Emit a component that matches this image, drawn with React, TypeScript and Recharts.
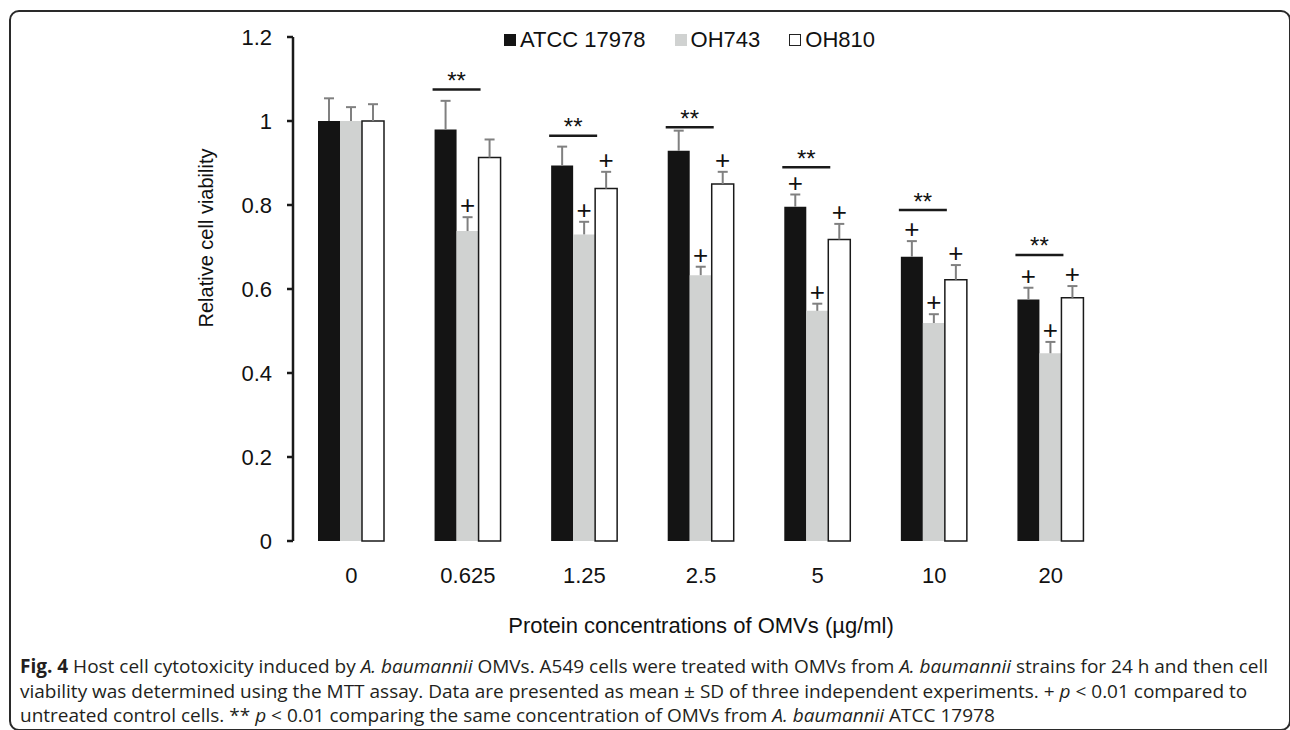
import React from 'react';
import { BarChart, Bar, XAxis, YAxis, LabelList, Legend } from 'recharts';

// ---- data ----
const categories = ['0', '0.625', '1.25', '2.5', '5', '10', '20'];
const atccValues = [1.0, 0.98, 0.894, 0.929, 0.796, 0.677, 0.575];
const atccErrors = [0.054, 0.068, 0.045, 0.048, 0.029, 0.037, 0.028];
const oh743Values = [1.0, 0.738, 0.73, 0.633, 0.548, 0.519, 0.447];
const oh743Errors = [0.033, 0.033, 0.03, 0.02, 0.017, 0.021, 0.027];
const oh810Values = [1.0, 0.913, 0.839, 0.85, 0.718, 0.622, 0.579];
const oh810Errors = [0.04, 0.043, 0.04, 0.029, 0.037, 0.035, 0.028];
// "+" markers (p < 0.01 vs untreated control)
const atccPlus = [false, false, false, false, true, true, true];
const oh743Plus = [false, true, true, true, true, true, true];
const oh810Plus = [false, false, true, true, true, true, true];
// "**" bracket heights (value units)
const sigLevels: (number | null)[] = [null, 1.075, 0.965, 0.985, 0.89, 0.788, 0.681];
const yTicks = [0, 0.2, 0.4, 0.6, 0.8, 1, 1.2];
const yTickLabels = ['0', '0.2', '0.4', '0.6', '0.8', '1', '1.2'];
const seriesNames = ['ATCC 17978', 'OH743', 'OH810'];

const data = categories.map((c, i) => ({
  conc: c,
  atcc: atccValues[i],
  oh743: oh743Values[i],
  oh810: oh810Values[i],
}));

const FONT = '"Liberation Sans", Arial, Helvetica, sans-serif';
const INK = '#141414';
const GRAY = '#d0d2d1';
const ERR = '#808080';

function makeDecor(values: number[], errors: number[], plus: boolean[], withSig: boolean) {
  return (props: any) => {
    const vb = props.viewBox || props;
    const x = Number(vb.x ?? props.x);
    const y = Number(vb.y ?? props.y);
    const w = Number(vb.width ?? props.width);
    const h = Number(vb.height ?? props.height);
    const i = props.index;
    const v = values[i];
    if (!isFinite(x) || !isFinite(y) || !v || !isFinite(h)) return null;
    const ppu = h / v;
    const base = y + h;
    const cx = x + w / 2;
    const top = y - errors[i] * ppu;
    const sig = withSig ? sigLevels[i] : null;
    const sy = sig != null ? base - sig * ppu : 0;
    const sx = x + w;
    return (
      <g key={`decor-${i}`}>
        <line x1={cx} y1={y} x2={cx} y2={top} stroke={ERR} strokeWidth={2} />
        <line x1={cx - 5} y1={top} x2={cx + 5} y2={top} stroke={ERR} strokeWidth={2} />
        {plus[i] && (
          <text x={cx} y={top - 2.8} textAnchor="middle" fontSize={26} fontFamily={FONT} fill="#111">
            +
          </text>
        )}
        {sig != null && (
          <g>
            <line x1={sx - 24} y1={sy} x2={sx + 24} y2={sy} stroke="#1a1a1a" strokeWidth={2.5} />
            <text x={sx} y={sy - 0.5} textAnchor="middle" fontSize={24} fontFamily={FONT} fill="#111">
              **
            </text>
          </g>
        )}
      </g>
    );
  };
}

const legendItems = [
  { name: seriesNames[0], fill: INK, border: 'none' },
  { name: seriesNames[1], fill: GRAY, border: 'none' },
  { name: seriesNames[2], fill: '#fff', border: '1.5px solid #222' },
];

const LegendContent = () => (
  <div style={{ display: 'flex', alignItems: 'center', fontFamily: FONT, fontSize: 22, color: '#111', lineHeight: '24px', whiteSpace: 'nowrap' }}>
    {legendItems.map((it, k) => (
      <div key={it.name} style={{ display: 'flex', alignItems: 'center', marginRight: k < 2 ? 29 : 0 }}>
        <span style={{ display: 'inline-block', width: 12, height: 12, boxSizing: 'border-box', background: it.fill, border: it.border, marginRight: 4 }} />
        <span>{it.name}</span>
      </div>
    ))}
  </div>
);

const ital = { fontStyle: 'italic' } as const;

export default function App() {
  return (
    <div style={{ position: 'fixed', left: 0, top: 0, width: 1290, height: 730, overflow: 'hidden', background: '#fff' }}>
      <div
        style={{
          position: 'absolute', left: 9, top: 10, width: 1282, height: 721,
          boxSizing: 'border-box', border: '2px solid #2a2a2a', borderRadius: 10,
        }}
      />
      <div style={{ position: 'absolute', left: 0, top: 0 }}>
        <BarChart
          width={1290}
          height={650}
          data={data}
          margin={{ top: 37, right: 181, bottom: 79, left: 233 }}
          barGap={0}
        >
          <XAxis
            dataKey="conc"
            axisLine={false}
            tickLine={false}
            height={30}
            tickMargin={20}
            tick={{ fontSize: 22, fill: '#111', fontFamily: FONT }}
            label={{
              content: (p: any) => {
                const vb = p.viewBox || {};
                return (
                  <text x={(vb.x ?? 293) + (vb.width ?? 816) / 2} y={633} textAnchor="middle" fontSize={22} fontFamily={FONT} fill="#111">
                    Protein concentrations of OMVs (µg/ml)
                  </text>
                );
              },
            }}
          />
          <YAxis
            domain={[0, 1.2]}
            ticks={yTicks}
            tickFormatter={(v: number) => yTickLabels[yTicks.indexOf(v)] ?? String(v)}
            width={60}
            tickSize={6}
            tickMargin={15}
            axisLine={{ stroke: '#1a1a1a', strokeWidth: 2.5 }}
            tickLine={{ stroke: '#1a1a1a', strokeWidth: 2.5 }}
            tick={{ fontSize: 22, fill: '#111', fontFamily: FONT }}
            label={{
              content: () => (
                <text x={206} y={238} transform="rotate(-90, 206, 238)" textAnchor="middle" dominantBaseline="central" fontSize={20} fontFamily={FONT} fill="#111">
                  Relative cell viability
                </text>
              ),
            }}
          />
          <Legend
            layout="horizontal"
            verticalAlign="middle"
            align="center"
            content={<LegendContent />}
            wrapperStyle={{ top: 28, left: 504, width: 420, height: 24 }}
          />
          <Bar dataKey="atcc" name={seriesNames[0]} fill={INK} barSize={22} isAnimationActive={false}>
            <LabelList dataKey="atcc" content={makeDecor(atccValues, atccErrors, atccPlus, true)} />
          </Bar>
          <Bar dataKey="oh743" name={seriesNames[1]} fill={GRAY} barSize={22} isAnimationActive={false}>
            <LabelList dataKey="oh743" content={makeDecor(oh743Values, oh743Errors, oh743Plus, false)} />
          </Bar>
          <Bar dataKey="oh810" name={seriesNames[2]} fill="#ffffff" stroke="#1a1a1a" strokeWidth={1.5} barSize={22} isAnimationActive={false}>
            <LabelList dataKey="oh810" content={makeDecor(oh810Values, oh810Errors, oh810Plus, false)} />
          </Bar>
        </BarChart>
      </div>
      <div
        style={{
          position: 'absolute', left: 20, top: 654, width: 1268,
          fontFamily: '"Open Sans", "Noto Sans", sans-serif', fontSize: 19, lineHeight: '24.5px',
          color: '#231f20', whiteSpace: 'nowrap',
        }}
      >
        <div>
          <b>Fig. 4</b> Host cell cytotoxicity induced by <span style={ital}>A. baumannii</span> OMVs. A549 cells were treated with OMVs from <span style={ital}>A. baumannii</span> strains for 24 h and then cell
        </div>
        <div>
          viability was determined using the MTT assay. Data are presented as mean ± SD of three independent experiments. + <span style={ital}>p</span> &lt; 0.01 compared to
        </div>
        <div>
          untreated control cells. ** <span style={ital}>p</span> &lt; 0.01 comparing the same concentration of OMVs from <span style={ital}>A. baumannii</span> ATCC 17978
        </div>
      </div>
    </div>
  );
}
